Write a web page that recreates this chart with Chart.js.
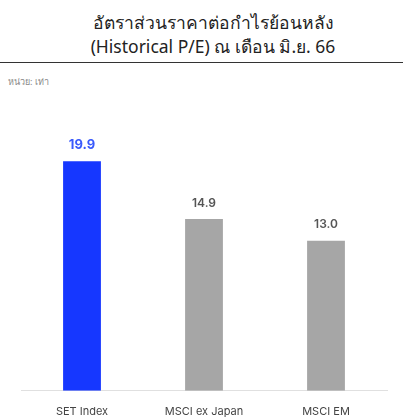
<!DOCTYPE html>
<html>
<head>
<meta charset="utf-8">
<script src="https://cdn.jsdelivr.net/npm/chart.js@4"></script>
<style>
  body { margin: 0; background: #fff; }
  #wrap { position: relative; width: 403px; height: 417px; }
  #title { position: absolute; left: 0; top: 10px; width: 426px; text-align: center;
           font-family: 'Noto Sans', 'Open Sans', sans-serif; font-size: 17.5px; line-height: 24px; color: #222; }
  #rule { position: absolute; left: 0; top: 62px; width: 403px; height: 1px; background: #333; }
  #unit { position: absolute; left: 8px; top: 75px; font-family: 'Noto Sans', sans-serif;
          font-size: 9px; color: #888; }
  canvas { position: absolute; left: 0; top: 0; }
</style>
</head>
<body>
<div id="wrap">
  <div id="title">อัตราส่วนราคาต่อกำไรย้อนหลัง<br>(Historical P/E) ณ เดือน มิ.ย. 66</div>
  <div id="rule"></div>
  <div id="unit">หน่วย: เท่า</div>
  <canvas id="peChart" width="403" height="417"></canvas>
</div>
<script>
// Chart values
const categories = ['SET Index', 'MSCI ex Japan', 'MSCI EM'];
const peValues = [19.9, 14.9, 13.0];
const barColors = ['#1637ff', '#a6a6a6', '#a6a6a6'];
const labelColors = ['#3a5afc', '#555555', '#555555'];

// Draw the value above each bar
const valueLabels = {
    id: 'valueLabels',
    afterDatasetsDraw(chart) {
        const ctx = chart.ctx;
        const meta = chart.getDatasetMeta(0);
        ctx.save();
        ctx.textAlign = 'center';
        ctx.textBaseline = 'bottom';
        meta.data.forEach((bar, i) => {
            ctx.fillStyle = labelColors[i];
            ctx.font = (i === 0 ? 'bold 13px' : '600 12px') + " 'Inter', 'Noto Sans', sans-serif";
            ctx.fillText(peValues[i].toFixed(1), bar.x, bar.y - 10);
        });
        ctx.restore();
    }
};

const ctx = document.getElementById('peChart').getContext('2d');
const peChart = new Chart(ctx, {
    type: 'bar',
    data: {
        labels: categories,
        datasets: [{
            data: peValues,
            backgroundColor: barColors,
            barPercentage: 0.31,
            categoryPercentage: 1.0
        }]
    },
    options: {
        responsive: false,
        animation: false,
        layout: { padding: { left: 21, right: 16, top: 137, bottom: -15 } },
        plugins: {
            legend: { display: false },
            tooltip: { enabled: false }
        },
        scales: {
            x: {
                grid: { display: false, drawTicks: false },
                border: { display: true, color: '#e0e0e0' },
                ticks: {
                    color: '#444',
                    padding: 14,
                    font: { family: "'Inter', 'Noto Sans', sans-serif", size: 11 }
                }
            },
            y: {
                display: false,
                min: 0,
                max: 22
            }
        }
    },
    plugins: [valueLabels]
});
</script>
</body>
</html>
